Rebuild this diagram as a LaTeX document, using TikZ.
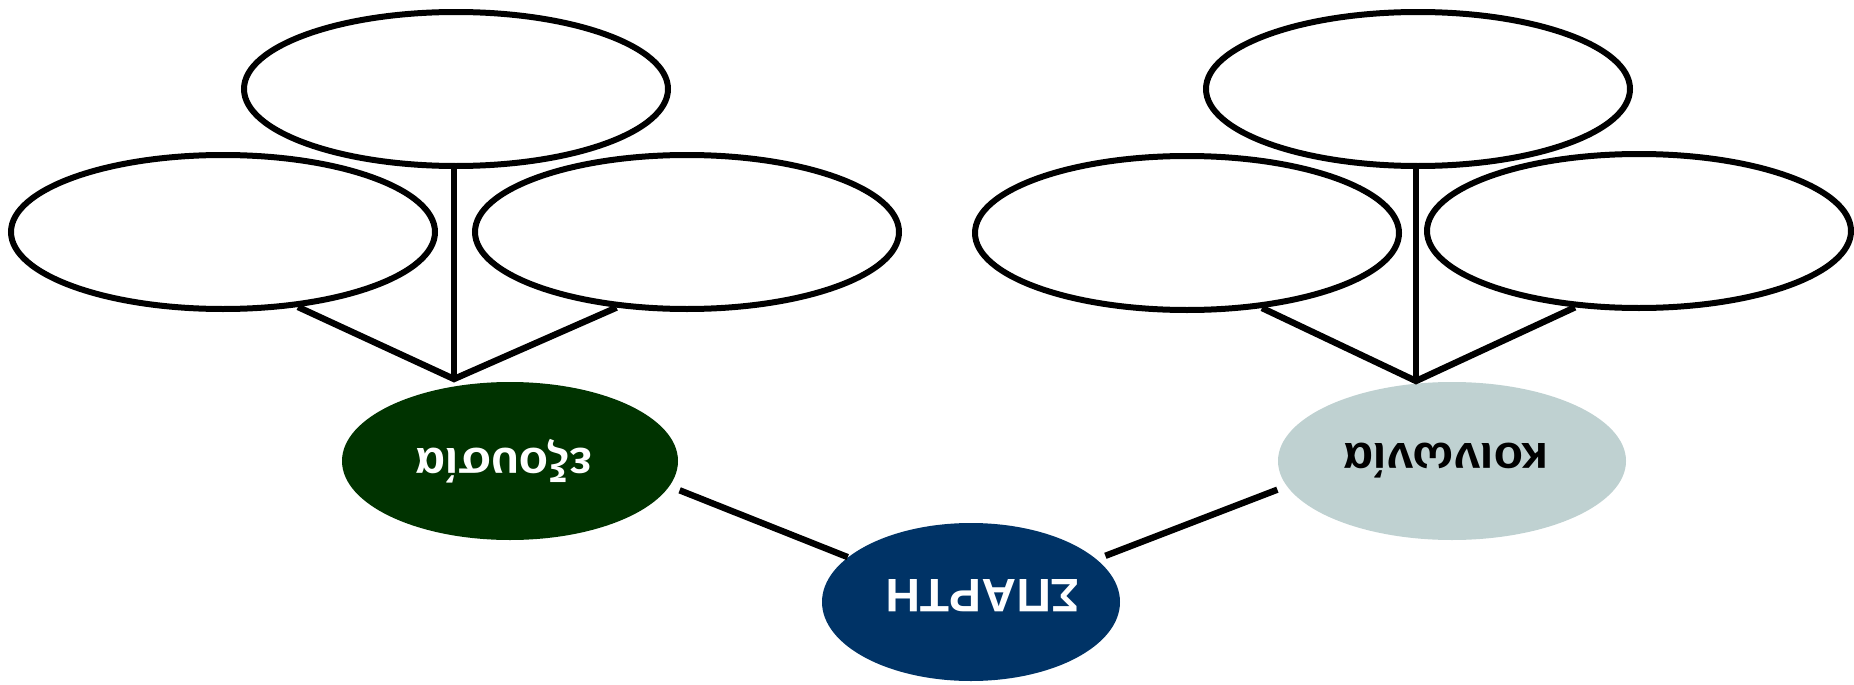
\documentclass[tikz,border=0pt]{standalone}
\usepackage{fontspec}
\setmainfont[FakeStretch=1.02]{Liberation Sans}
\usetikzlibrary{shapes.geometric}
\definecolor{spblue}{RGB}{0,51,102}
\definecolor{exgreen}{RGB}{0,51,0}
\definecolor{kogrey}{RGB}{191,209,209}
\tikzset{
  emptyell/.style={ellipse,draw=black,line width=3pt,fill=white,minimum width=212pt,minimum height=77pt,inner sep=0pt},
  mainell/.style={ellipse,inner sep=0pt,minimum height=79pt,font=\fontsize{23.5}{27}\selectfont\bfseries},
  conn/.style={line width=3.2pt,draw=black}
}
\newcommand{\upsd}[1]{\makebox[0pt]{\rotatebox{180}{#1}}}
\begin{document}
\begin{tikzpicture}[x=0.5pt,y=-0.5pt]
\useasboundingbox (0,0) rectangle (1854,685);
% left group
\node[emptyell] (tl) at (456,89) {};
\node[emptyell] (ll) at (223,232) {};
\node[emptyell] (lr) at (687,232) {};
\coordinate (j1) at (454,379);
% right group
\node[emptyell] (rt) at (1418,89) {};
\node[emptyell] (rl) at (1187,233) {};
\node[emptyell] (rr) at (1639,231) {};
\coordinate (j2) at (1416,381);
% main nodes
\node[mainell,fill=exgreen,text=white,minimum width=168pt] (ex) at (510,461) {\upsd{\hspace*{6pt}εξουσία}};
\node[mainell,fill=spblue,text=white,minimum width=149pt] (sp) at (971,602) {\upsd{\rule{0pt}{22.3pt}ΣΠΑΡΤΗ\hspace*{12pt}}};
\node[mainell,fill=kogrey,text=black,minimum width=174pt] (ko) at (1452,461) {\upsd{\hspace*{6pt}κοινωνία}};
% connectors
\draw[conn] (ll.-45) -- (j1) -- (lr.-133);
\draw[conn] (j1) -- (j1 |- tl.south);
\draw[conn] (rl.-45) -- (j2) -- (rr.-130);
\draw[conn] (j2) -- (j2 |- rt.south);
\draw[conn] ([shift={(10,4)}]ex.-9) -- (sp.160);
\draw[conn] ([shift={(9,-3)}]sp.19) -- ([shift={(-12,0)}]ko.-170);
\end{tikzpicture}
\end{document}
